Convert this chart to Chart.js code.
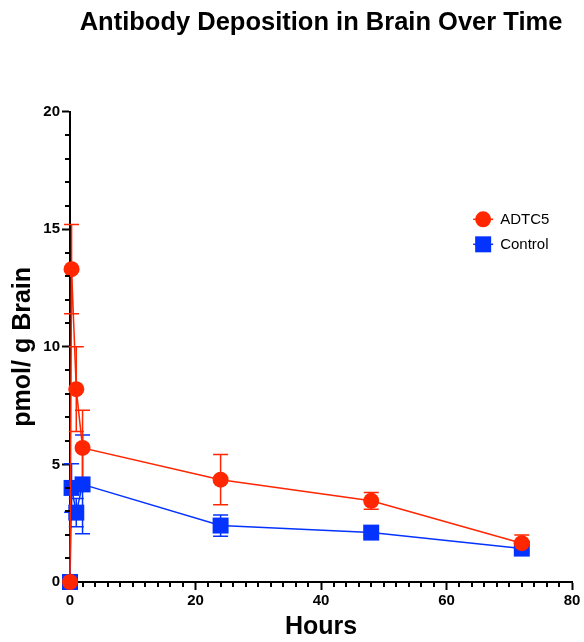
<!DOCTYPE html>
<html>
<head>
<meta charset="utf-8">
<title>Antibody Deposition in Brain Over Time</title>
<script src="https://cdn.jsdelivr.net/npm/chart.js@4.4.1/dist/chart.umd.min.js"></script>
<style>
  html, body { margin: 0; padding: 0; background: #fff; }
</style>
</head>
<body>
<canvas id="chart" width="584" height="642"></canvas>
<script>
// sampling times (h) and brain levels (pmol/g), mean and SEM
const hours = [0, 0.25, 1, 2, 24, 48, 72];
const adtc5 = [0, 13.3, 8.2, 5.7, 4.35, 3.45, 1.65];
const adtc5Sem = [0, 1.9, 1.8, 1.6, 1.07, 0.36, 0.35];
const control = [0, 4.0, 2.95, 4.15, 2.4, 2.1, 1.42];
const controlSem = [0, 1.03, 0.6, 2.1, 0.45, 0.12, 0.12];
const xTickValues = [0, 20, 40, 60, 80];
const yTickValues = [0, 5, 10, 15, 20];

const RED = '#FF2600';
const BLUE = '#0433FF';

Chart.defaults.font.family = '"Liberation Sans", Arial, Helvetica, sans-serif';
Chart.defaults.color = '#000';

// vertical SEM bars with caps
const errorBars = {
  id: 'errorBars',
  beforeDatasetsDraw(chart) {
    const { ctx, scales: { x, y } } = chart;
    ctx.save();
    for (let i = chart.data.datasets.length - 1; i >= 0; i--) {
      const ds = chart.data.datasets[i];
      ctx.strokeStyle = ds.borderColor;
      ctx.lineWidth = 1.5;
      ds.data.forEach((p, j) => {
        const e = ds.sem[j];
        if (!e) return;
        const px = x.getPixelForValue(p.x);
        const top = y.getPixelForValue(p.y + e);
        const bot = y.getPixelForValue(p.y - e);
        ctx.beginPath();
        ctx.moveTo(px, top); ctx.lineTo(px, bot);
        ctx.moveTo(px - 7.5, top); ctx.lineTo(px + 7.5, top);
        ctx.moveTo(px - 7.5, bot); ctx.lineTo(px + 7.5, bot);
        ctx.stroke();
      });
    }
    ctx.restore();
  }
};

// minor ticks between the labelled ones
const minorTicks = {
  id: 'minorTicks',
  afterDraw(chart) {
    const { ctx, scales: { x, y } } = chart;
    ctx.save();
    ctx.strokeStyle = '#000';
    ctx.lineWidth = 2;
    ctx.beginPath();
    for (let v = 0; v <= 80; v += 2) {
      if (xTickValues.includes(v)) continue;
      const px = Math.round(x.getPixelForValue(v));
      ctx.moveTo(px, y.bottom); ctx.lineTo(px, y.bottom + 5);
    }
    for (let v = 0; v <= 20; v += 1) {
      if (yTickValues.includes(v)) continue;
      const py = Math.round(y.getPixelForValue(v));
      ctx.moveTo(x.left, py); ctx.lineTo(x.left - 5, py);
    }
    ctx.stroke();
    ctx.restore();
  }
};

// legend inside the plot, upper right
const sideLegend = {
  id: 'sideLegend',
  afterDraw(chart) {
    const { ctx, chartArea } = chart;
    const lx = chartArea.left + 0.823 * (chartArea.right - chartArea.left);
    let ly = chartArea.top + 0.229 * (chartArea.bottom - chartArea.top);
    ctx.save();
    ctx.font = '15px "Liberation Sans", Arial, sans-serif';
    ctx.textBaseline = 'middle';
    chart.data.datasets.forEach(ds => {
      ctx.strokeStyle = ds.borderColor;
      ctx.fillStyle = ds.backgroundColor;
      ctx.lineWidth = 1.5;
      ctx.beginPath();
      ctx.moveTo(lx - 10, ly); ctx.lineTo(lx + 10, ly);
      ctx.stroke();
      ctx.beginPath();
      if (ds.pointStyle === 'circle') {
        ctx.arc(lx, ly, 8, 0, Math.PI * 2);
      } else {
        ctx.rect(lx - 8, ly - 8, 16, 16);
      }
      ctx.fill();
      ctx.fillStyle = '#000';
      ctx.fillText(ds.label, lx + 17, ly + 1);
      ly += 25;
    });
    ctx.restore();
  }
};

const chart = new Chart(document.getElementById('chart'), {
  type: 'line',
  data: {
    datasets: [
      {
        label: 'ADTC5',
        data: hours.map((h, i) => ({ x: h, y: adtc5[i] })),
        sem: adtc5Sem,
        borderColor: RED,
        backgroundColor: RED,
        borderWidth: 1.5,
        pointStyle: 'circle',
        pointRadius: 8,
        pointHoverRadius: 8,
        pointBorderWidth: 0,
        tension: 0,
        clip: false
      },
      {
        label: 'Control',
        data: hours.map((h, i) => ({ x: h, y: control[i] })),
        sem: controlSem,
        borderColor: BLUE,
        backgroundColor: BLUE,
        borderWidth: 1.5,
        pointStyle: 'rect',
        pointRadius: 11.3,
        pointHoverRadius: 11.3,
        pointBorderWidth: 0,
        tension: 0,
        clip: false
      }
    ]
  },
  options: {
    responsive: false,
    animation: false,
    layout: { padding: { left: 0, right: 12, top: 0, bottom: 0 } },
    plugins: {
      legend: { display: false },
      tooltip: { enabled: false },
      title: {
        display: true,
        text: 'Antibody Deposition in Brain Over Time',
        fullSize: false,
        font: { size: 25.5, weight: 'bold' },
        color: '#000',
        padding: { top: 8, bottom: 73 }
      }
    },
    scales: {
      x: {
        type: 'linear',
        min: 0,
        max: 80,
        afterBuildTicks: s => { s.ticks = xTickValues.map(v => ({ value: v })); },
        afterFit: s => { s.height = 60; },
        grid: { drawOnChartArea: false, tickLength: 8, tickWidth: 2, tickColor: '#000' },
        border: { color: '#000', width: 2 },
        ticks: { font: { size: 15, weight: 'bold' }, padding: 2, maxRotation: 0 },
        title: {
          display: true,
          text: 'Hours',
          font: { size: 25, weight: 'bold' },
          padding: { top: 0, bottom: 0 }
        }
      },
      y: {
        type: 'linear',
        min: 0,
        max: 20,
        afterBuildTicks: s => { s.ticks = yTickValues.map(v => ({ value: v })); },
        afterFit: s => { s.width = 70; },
        grid: { drawOnChartArea: false, tickLength: 8, tickWidth: 2, tickColor: '#000' },
        border: { color: '#000', width: 2 },
        ticks: { font: { size: 15, weight: 'bold' }, padding: 2 },
        title: {
          display: true,
          text: 'pmol/ g Brain',
          font: { size: 25, weight: 'bold' },
          padding: { top: 8, bottom: 0 }
        }
      }
    }
  },
  plugins: [errorBars, minorTicks, sideLegend]
});
</script>
</body>
</html>
